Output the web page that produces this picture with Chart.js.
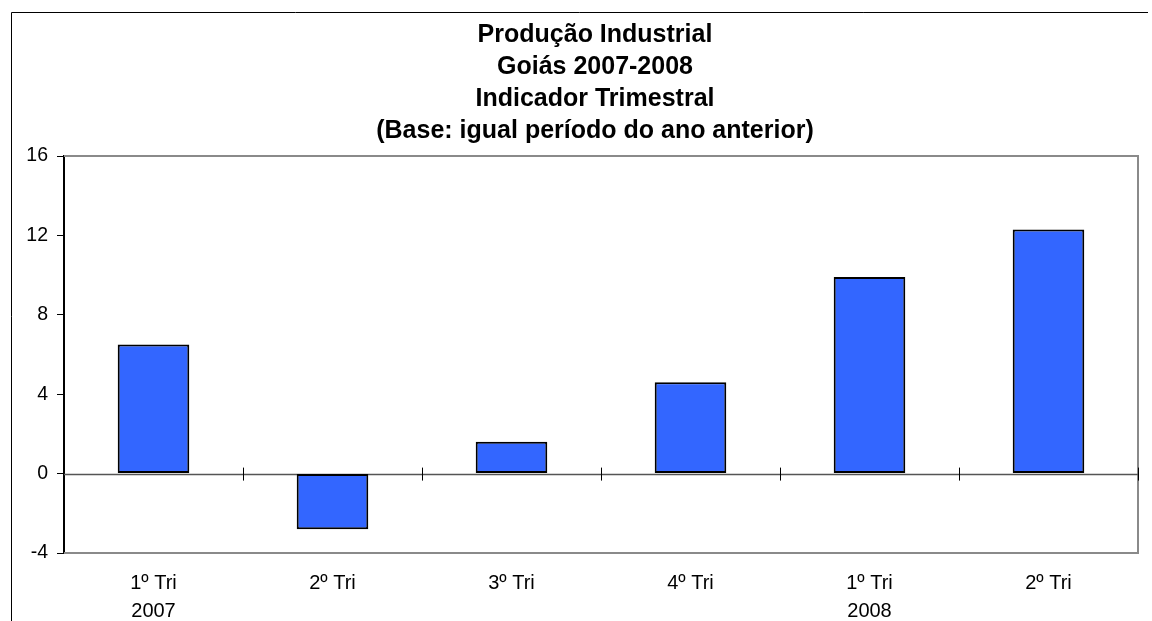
<!DOCTYPE html>
<html>
<head>
<meta charset="utf-8">
<script src="https://cdn.jsdelivr.net/npm/chart.js@4"></script>
<style>
  html, body { margin: 0; padding: 0; background: #fff; }
  canvas { display: block; }
</style>
</head>
<body>
<canvas id="chart" width="1152" height="621"></canvas>
<script>
const titleLines = [
  'Produção Industrial',
  'Goiás 2007-2008',
  'Indicador Trimestral',
  '(Base: igual período do ano anterior)'
];
const quarters = [['1º Tri', '2007'], ['2º Tri'], ['3º Tri'], ['4º Tri'], ['1º Tri', '2008'], ['2º Tri']];
const growth = [6.5, -2.8, 1.6, 4.6, 9.9, 12.3];
const yMin = -4;
const yMax = 16;
const yStep = 4;

const FONT = "'Liberation Sans', Arial, sans-serif";

// outer frame, title, plot border and the zero line with its category ticks
const decorations = {
  id: 'decorations',
  beforeDraw(chart) {
    const ctx = chart.ctx;
    ctx.save();
    ctx.strokeStyle = '#000';
    ctx.lineWidth = 1;
    ctx.beginPath();
    ctx.moveTo(11.5, chart.height);
    ctx.lineTo(11.5, 12.5);
    ctx.lineTo(1148, 12.5);
    ctx.stroke();

    ctx.fillStyle = '#000';
    ctx.font = 'bold 25px ' + FONT;
    ctx.textAlign = 'center';
    ctx.textBaseline = 'middle';
    titleLines.forEach((line, i) => {
      ctx.fillText(line, 595, 35 + i * 32);
    });
    ctx.restore();
  },
  beforeDatasetsDraw(chart) {
    const { ctx, chartArea: a, scales } = chart;
    ctx.save();
    ctx.strokeStyle = '#8a8a8a';
    ctx.lineWidth = 2;
    ctx.beginPath();
    ctx.moveTo(a.left, a.top);
    ctx.lineTo(a.right, a.top);
    ctx.lineTo(a.right, a.bottom);
    ctx.lineTo(a.left, a.bottom);
    ctx.stroke();

    const y0 = Math.round(scales.y.getPixelForValue(0)) + 0.5;
    ctx.strokeStyle = '#555';
    ctx.lineWidth = 1.5;
    ctx.beginPath();
    ctx.moveTo(a.left, y0);
    ctx.lineTo(a.right, y0);
    ctx.stroke();
    ctx.restore();
  },
  afterDatasetsDraw(chart) {
    const { ctx, scales } = chart;
    const y0 = scales.y.getPixelForValue(0);
    ctx.save();
    ctx.strokeStyle = '#000';
    ctx.lineWidth = 1;
    ctx.beginPath();
    for (let i = 1; i <= quarters.length; i++) {
      const x = Math.round(scales.x.getPixelForValue(i - 0.5)) + 0.5;
      ctx.moveTo(x, y0 - 6);
      ctx.lineTo(x, y0 + 7);
    }
    ctx.stroke();
    ctx.restore();
  }
};

new Chart(document.getElementById('chart'), {
  type: 'bar',
  data: {
    labels: quarters,
    datasets: [{
      data: growth,
      backgroundColor: '#3366ff',
      borderColor: '#000',
      borderWidth: 2,
      borderSkipped: false,
      barPercentage: 0.4,
      categoryPercentage: 1
    }]
  },
  options: {
    responsive: false,
    animation: false,
    layout: { padding: { left: 0, right: 14, top: 156, bottom: 0 } },
    plugins: {
      legend: { display: false },
      tooltip: { enabled: false },
      title: { display: false }
    },
    scales: {
      x: {
        grid: { display: false, drawTicks: false },
        border: { display: false },
        ticks: {
          color: '#000',
          padding: 16,
          maxRotation: 0,
          font: { family: FONT, size: 20, lineHeight: 1.4 }
        },
        afterFit(scale) { scale.height = 68; }
      },
      y: {
        min: yMin,
        max: yMax,
        grid: { drawOnChartArea: false, drawTicks: true, tickLength: 7, color: '#000', lineWidth: 1 },
        border: { display: true, color: '#000', width: 2 },
        ticks: {
          stepSize: yStep,
          color: '#000',
          padding: 9,
          font: { family: FONT, size: 19.5 }
        },
        afterFit(scale) { scale.width = 64; }
      }
    }
  },
  plugins: [decorations]
});
</script>
</body>
</html>
